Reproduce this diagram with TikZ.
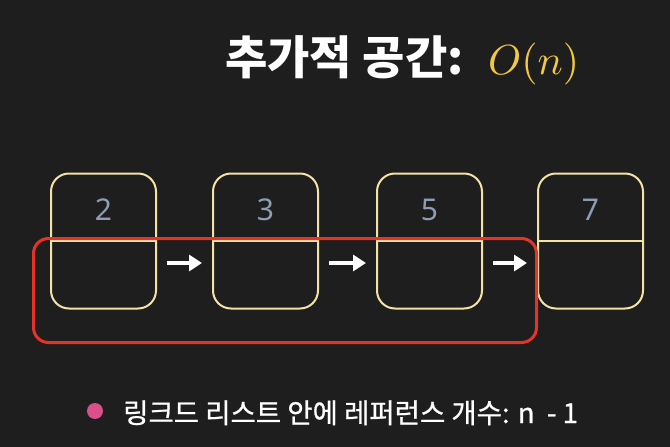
\documentclass[tikz,border=0pt]{standalone}
\usepackage{fontspec}
\usepackage{graphicx}
\usetikzlibrary{arrows.meta}
\newfontfamily\kr{Noto Sans CJK KR}
\newfontfamily\krm{Noto Sans CJK KR}[FakeBold=0.8]
\newfontfamily\nf{Noto Sans}
\definecolor{bgc}{HTML}{1E1E1E}
\definecolor{boxc}{HTML}{F2E2A6}
\definecolor{numc}{HTML}{8E9DB3}
\definecolor{redc}{HTML}{E53329}
\definecolor{ylw}{HTML}{F2C744}
\definecolor{pinkc}{HTML}{D9508A}
\begin{document}
\begin{tikzpicture}[x=1pt,y=-1pt,
  cell/.style={draw=boxc, line width=2pt, rounded corners=18pt, minimum width=105pt, minimum height=135pt, inner sep=0pt},
  divider/.style={draw=boxc, line width=2pt},
  num/.style={font=\nf\fontsize{30}{30}\selectfont, text=numc, anchor=base, inner sep=0pt},
  link/.style={draw=white, line width=4pt, -{Triangle[length=13pt,width=16pt]}},
  hl/.style={draw=redc, line width=3pt, rounded corners=15pt, minimum width=503pt, minimum height=104pt, inner sep=0pt}]
\fill[bgc] (0,0) rectangle (670,447);
\useasboundingbox (0,0) rectangle (670,447);
\node[anchor=base west, inner sep=0pt, text=white, font=\kr\bfseries\fontsize{46}{46}\selectfont] (title) at (225,74) {추가적 공간:};
\node[anchor=base west, inner sep=0pt, text=ylw] (big) at (488,74) {\scalebox{4.2}{$O(n)$}};
\foreach \i/\x/\v in {1/103.5/2, 2/265.5/3, 3/429.5/5, 4/590.5/7} {
  \node[cell] (b\i) at (\x,241) {};
  \draw[divider] (b\i.west) -- (b\i.east);
  \node[num] (n\i) at (\x,220) {\v};
}
\draw[link] ([xshift=10pt,yshift=-22pt]b1.east) -- ([xshift=-10pt,yshift=-22pt]b2.west);
\draw[link] ([xshift=10pt,yshift=-22pt]b2.east) -- ([xshift=-10pt,yshift=-22pt]b3.west);
\draw[link] ([xshift=10pt,yshift=-22pt]b3.east) -- ([xshift=-10pt,yshift=-22pt]b4.west);
\node[hl] (hl) at (285,290.5) {};
\node[circle, fill=pinkc, minimum size=16pt, inner sep=0pt] (dot) at (95,411) {};
\node[anchor=base west, inner sep=0pt, text=white, font=\krm\fontsize{27.5}{27.5}\selectfont] (cap) at (123,423) {링크드 리스트 안에 레퍼런스 개수: n~~- 1};
\end{tikzpicture}
\end{document}
